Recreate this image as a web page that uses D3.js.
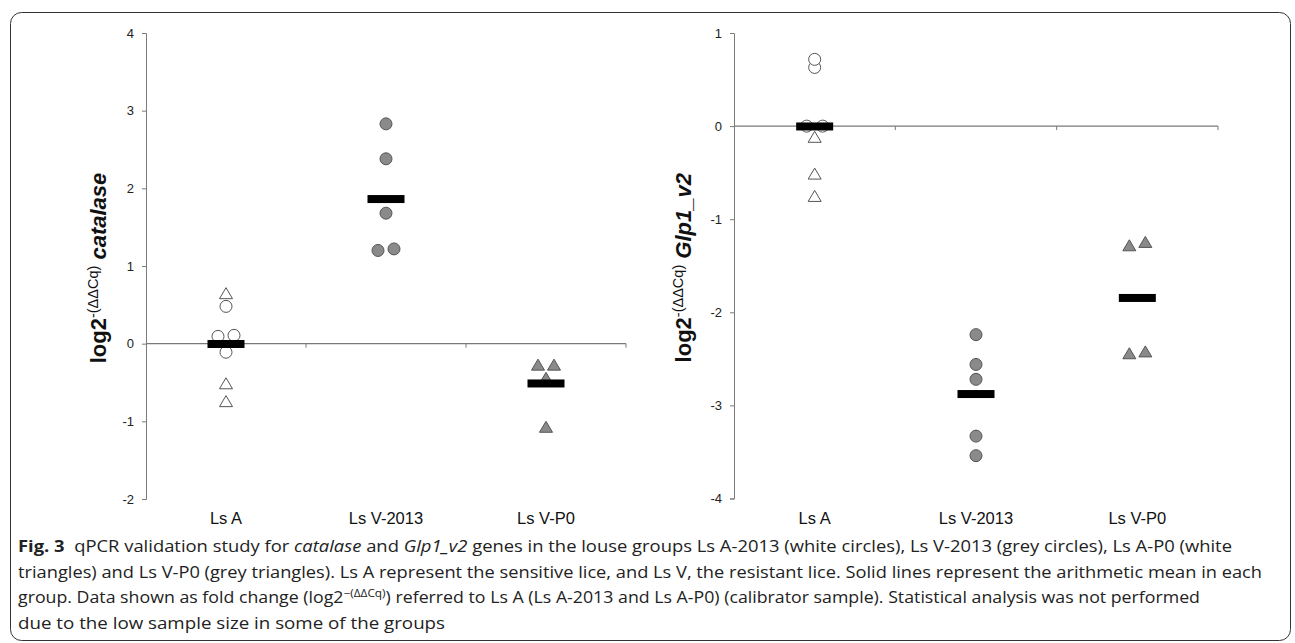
<!DOCTYPE html>
<html>
<head>
<meta charset="utf-8">
<script src="https://cdn.jsdelivr.net/npm/d3@7"></script>
<style>
  body { margin: 0; background: #fff; }
  svg { display: block; }
</style>
</head>
<body>
<svg id="chart" width="1295" height="643"></svg>
<script>
const groups = ["Ls A", "Ls V-2013", "Ls V-P0"];

// catalase panel, values per group
const catalaseCircles = [[0.48, 0.094, 0.107, -0.11], [2.83, 2.38, 1.68, 1.2, 1.22], []];
const catalaseTriangles = [[0.65, -0.51, -0.74], [], [-0.27, -0.27, -0.44, -1.07]];
const catalaseTicks = [-2, -1, 0, 1, 2, 3, 4];

// Glp1_v2 panel
const glpCircles = [[0.717, 0.63, 0, 0], [-2.24, -2.56, -2.72, -3.33, -3.54], []];
const glpTriangles = [[-0.115, -0.51, -0.75], [], [-1.28, -1.244, -2.44, -2.42]];
const glpTicks = [-4, -3, -2, -1, 0, 1];

const AXIS = "#7a7a7a";
const GREY = "#8a8a8a";
const EDGE = "#555";
const FONT = "'Liberation Sans', Arial, sans-serif";

const svg = d3.select("#chart");

// frame
svg.append("rect")
  .attr("x", 10.5).attr("y", 12.5)
  .attr("width", 1280).attr("height", 628)
  .attr("rx", 11)
  .attr("fill", "none")
  .attr("stroke", "#333")
  .attr("stroke-width", 1);

const triangle = "M0,-5.5L6.5,5.5L-6.5,5.5Z";

const drawPanel = (opts) => {
  const { circles, triangles, ticks, x0, x1, yTop, yBottom, gene, titleX } = opts;

  const y = d3.scaleLinear()
    .domain([d3.min(ticks), d3.max(ticks)])
    .range([yBottom, yTop]);
  const x = d3.scaleBand().domain(groups).range([x0, x1]);

  const g = svg.append("g");

  // y axis
  const yAxis = g.append("g")
    .attr("transform", `translate(${x0},0)`)
    .call(d3.axisLeft(y).tickValues(ticks).tickSize(4).tickPadding(8).tickFormat((d) => String(d)));
  yAxis.select(".domain").attr("stroke", AXIS).attr("d", `M-4,${yTop + 0.5}H0.5V${yBottom + 0.5}H-4`);
  yAxis.selectAll(".tick line").attr("stroke", AXIS);
  yAxis.selectAll(".tick text")
    .attr("font-family", FONT).attr("font-size", 13).attr("fill", "#222");

  // x axis at zero
  const xAxis = g.append("g").attr("transform", `translate(0,${y(0)})`);
  xAxis.append("line")
    .attr("x1", x0).attr("x2", x1)
    .attr("stroke", AXIS).attr("stroke-width", 1.2);
  xAxis.selectAll("line.tk")
    .data(groups)
    .join("line")
    .attr("class", "tk")
    .attr("x1", (d) => x(d) + x.bandwidth()).attr("x2", (d) => x(d) + x.bandwidth())
    .attr("y1", 0).attr("y2", 4)
    .attr("stroke", AXIS);

  // category labels
  g.selectAll("text.cat")
    .data(groups)
    .join("text")
    .attr("class", "cat")
    .attr("x", (d) => x(d) + x.bandwidth() / 2)
    .attr("y", yBottom + 25)
    .attr("text-anchor", "middle")
    .attr("font-family", FONT)
    .attr("font-size", 16.5)
    .attr("fill", "#111")
    .text((d) => d);

  // y title
  const title = g.append("text")
    .attr("transform", `translate(${titleX},${(yTop + yBottom) / 2 + 2}) rotate(-90)`)
    .attr("text-anchor", "middle")
    .attr("font-family", FONT)
    .attr("font-size", 22)
    .attr("font-weight", "bold")
    .attr("fill", "#111");
  title.append("tspan").text("log2");
  title.append("tspan").attr("font-size", 14.5).attr("font-weight", "normal").attr("dy", -8).text("-(ΔΔCq)");
  title.append("tspan").attr("dy", 8).attr("font-style", "italic").text("\u00a0" + gene);

  // points, dodged when two sit on top of each other
  groups.forEach((grp, i) => {
    const pts = [
      ...circles[i].map((v) => ({ v, shape: "circle" })),
      ...triangles[i].map((v) => ({ v, shape: "triangle" })),
    ].sort((a, b) => a.v - b.v);
    pts.forEach((p) => (p.dx = 0));
    for (let k = 0; k < pts.length - 1; k++) {
      if (Math.abs(y(pts[k].v) - y(pts[k + 1].v)) < 4 && pts[k].dx === 0) {
        pts[k].dx = -8;
        pts[k + 1].dx = 8;
      }
    }
    const cx = x(grp) + x.bandwidth() / 2;
    const fill = i === 0 ? "#fff" : GREY;

    g.selectAll(null)
      .data(pts.filter((p) => p.shape === "circle"))
      .join("circle")
      .attr("cx", (d) => cx + d.dx)
      .attr("cy", (d) => y(d.v))
      .attr("r", 6)
      .attr("fill", fill)
      .attr("stroke", EDGE)
      .attr("stroke-width", 1);

    g.selectAll(null)
      .data(pts.filter((p) => p.shape === "triangle"))
      .join("path")
      .attr("d", triangle)
      .attr("transform", (d) => `translate(${cx + d.dx},${y(d.v)})`)
      .attr("fill", fill)
      .attr("stroke", EDGE)
      .attr("stroke-width", 1);

    // mean bar
    const m = d3.mean(pts, (d) => d.v);
    g.append("rect")
      .attr("x", cx - 18.5)
      .attr("y", y(m) - 4)
      .attr("width", 37)
      .attr("height", 8)
      .attr("fill", "#000");
  });
};

drawPanel({
  circles: catalaseCircles, triangles: catalaseTriangles, ticks: catalaseTicks,
  x0: 146, x1: 626, yTop: 33, yBottom: 499, gene: "catalase", titleX: 106,
});

drawPanel({
  circles: glpCircles, triangles: glpTriangles, ticks: glpTicks,
  x0: 734, x1: 1218, yTop: 33, yBottom: 498.5, gene: "Glp1_v2", titleX: 691,
});

// caption
const CAP = "'Open Sans', 'Noto Sans', sans-serif";
const caption = svg.append("g")
  .attr("font-family", CAP)
  .attr("font-size", 16.5)
  .attr("fill", "#222");

const line1 = caption.append("text").attr("x", 18).attr("y", 552)
  .attr("textLength", 1214).attr("lengthAdjust", "spacingAndGlyphs");
line1.append("tspan").attr("font-weight", "bold").text("Fig. 3");
line1.append("tspan").text("\u00a0\u00a0qPCR validation study for ");
line1.append("tspan").attr("font-style", "italic").text("catalase");
line1.append("tspan").text(" and ");
line1.append("tspan").attr("font-style", "italic").text("Glp1_v2");
line1.append("tspan").text(" genes in the louse groups Ls A-2013 (white circles), Ls V-2013 (grey circles), Ls A-P0 (white");

caption.append("text").attr("x", 18).attr("y", 577.5)
  .attr("textLength", 1244).attr("lengthAdjust", "spacingAndGlyphs")
  .text("triangles) and Ls V-P0 (grey triangles). Ls A represent the sensitive lice, and Ls V, the resistant lice. Solid lines represent the arithmetic mean in each");

const line3 = caption.append("text").attr("x", 18).attr("y", 603)
  .attr("textLength", 1182).attr("lengthAdjust", "spacingAndGlyphs");
line3.append("tspan").text("group. Data shown as fold change (log2");
line3.append("tspan").attr("font-size", 11).attr("dy", -6).text("\u2212(ΔΔCq)");
line3.append("tspan").attr("dy", 6).text(") referred to Ls A (Ls A-2013 and Ls A-P0) (calibrator sample). Statistical analysis was not performed");

caption.append("text").attr("x", 18).attr("y", 628.5)
  .attr("textLength", 427).attr("lengthAdjust", "spacingAndGlyphs")
  .text("due to the low sample size in some of the groups");
</script>
</body>
</html>
